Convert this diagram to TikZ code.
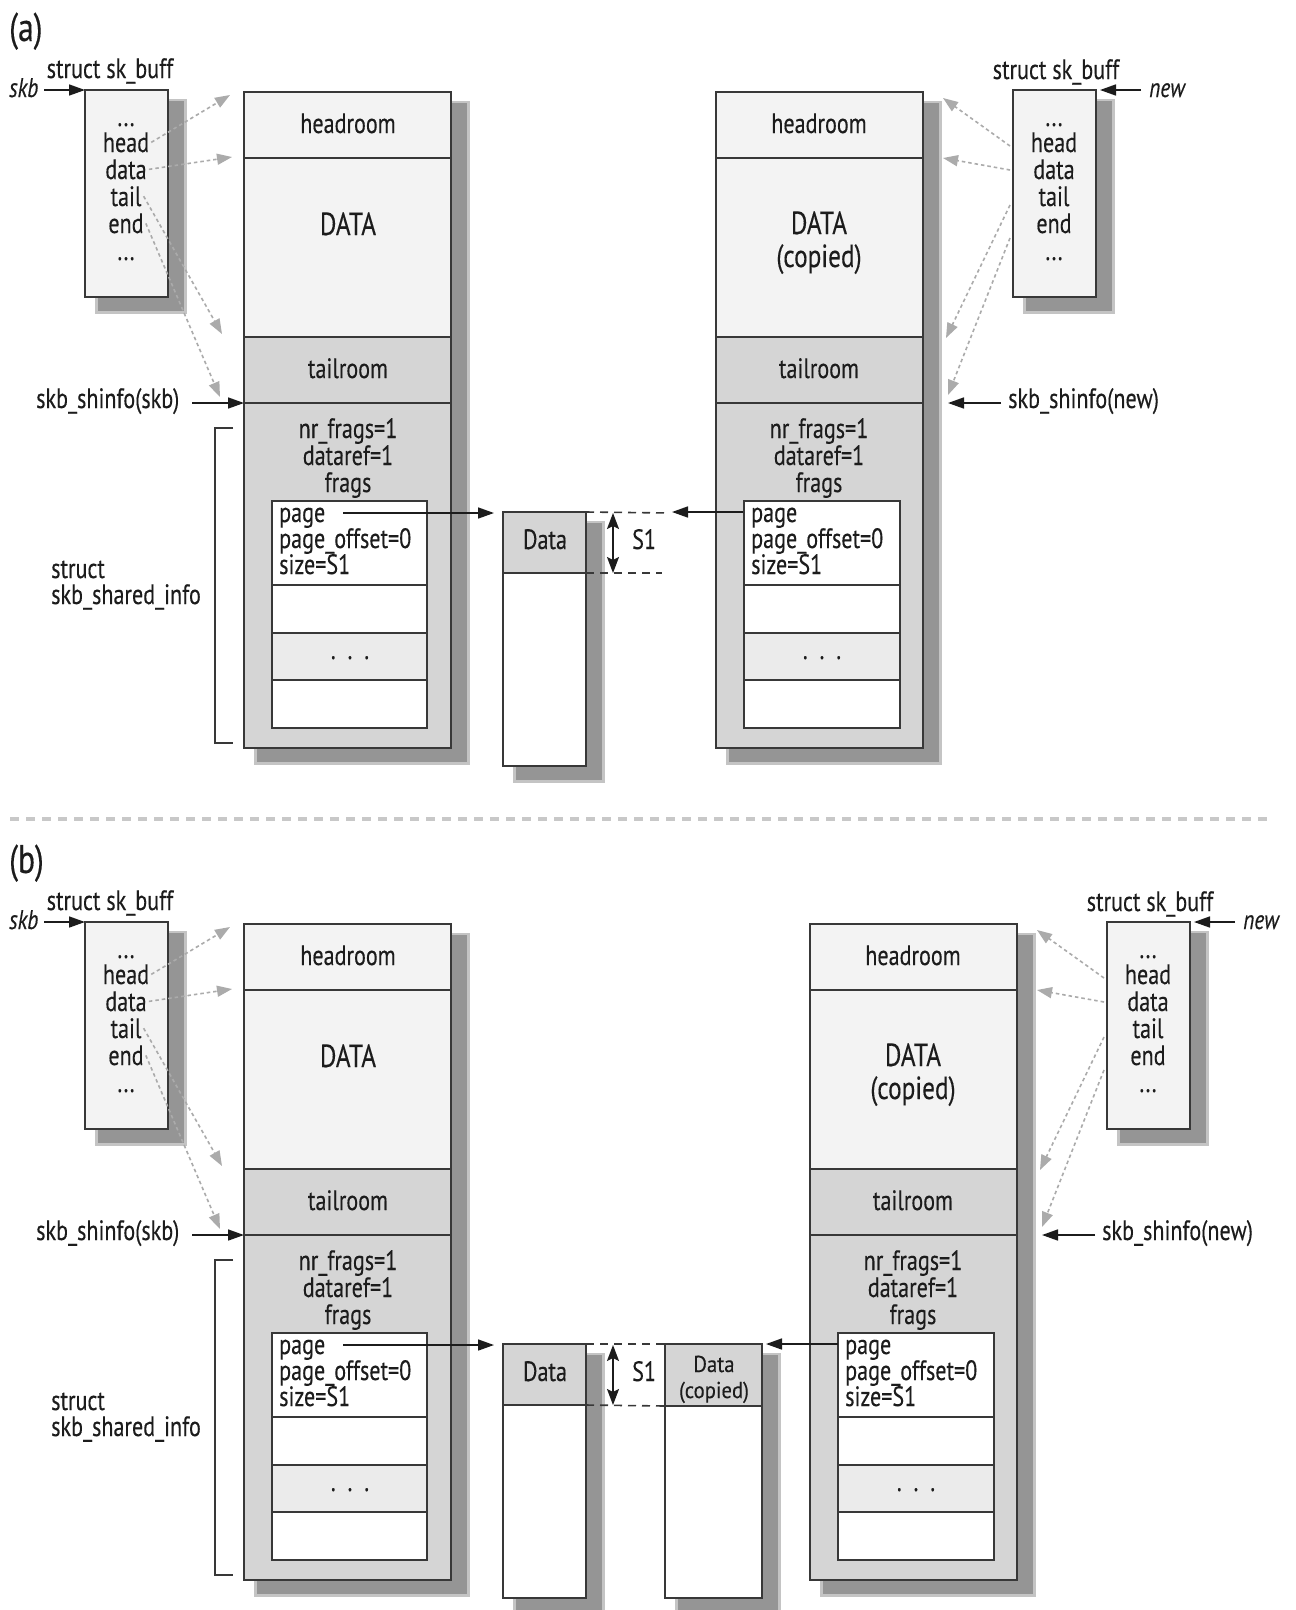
\documentclass[tikz,border=0pt]{standalone}
\usepackage{fontspec}
\setmainfont{PT Sans}[FakeStretch=0.79, FakeBold=0.25]
\newfontfamily\widefont{PT Sans}[FakeStretch=0.9, FakeBold=0.25]
\usetikzlibrary{arrows.meta}
\definecolor{lightfill}{HTML}{F3F3F3}
\definecolor{midfill}{HTML}{D5D5D5}
\definecolor{dotfill}{HTML}{EBEBEB}
\definecolor{edgec}{HTML}{383838}
\definecolor{shcore}{HTML}{959595}
\definecolor{shhalo}{HTML}{C4C4C4}
\definecolor{ptrc}{HTML}{ABABAB}
\definecolor{inkc}{HTML}{1C1C1C}
\definecolor{sepc}{HTML}{C8C8C8}
\tikzset{
  boxc/.style={draw=edgec, line width=2.3pt, anchor=north west, inner sep=0pt, outer sep=0pt},
  lbl/.style={anchor=base, inner sep=0pt, text=inkc, font=\fontsize{28}{30}\selectfont},
  lblw/.style={lbl, anchor=base west},
  itl/.style={lblw, font=\itshape\fontsize{27}{29}\selectfont},
  big/.style={lbl, font=\fontsize{32}{34}\selectfont},
  ptr/.style={draw=ptrc, line width=1.6pt, dash pattern=on 3.5pt off 3pt, -{Triangle[length=15pt,width=11pt]}},
  blk/.style={draw=inkc, line width=1.6pt, -{Triangle[length=16pt,width=11pt]}},
  dbl/.style={draw=inkc, line width=1.6pt, {Stealth[length=16pt,width=12pt,inset=3pt]}-{Stealth[length=16pt,width=12pt,inset=3pt]}},
  dsh/.style={draw=edgec, line width=1.6pt, dash pattern=on 8pt off 6pt},
}
\newcommand\Shade[4]{%
  \fill[shhalo] ({#1+10},{#2+9}) rectangle ({#3+19},{#4+17});
  \fill[shcore] ({#1+13},{#2+11}) rectangle ({#3+16},{#4+14});
}
% #1 prefix, #2 label
\newcommand\LeftGroup[2]{%
  \node[lblw, font=\fontsize{40}{40}\selectfont] (#1lab) at (9,41) {#2};
  % sk_buff
  \Shade{85}{90}{168}{297}
  \node[boxc, fill=lightfill, minimum width=83pt, minimum height=207pt] (#1Lsk) at (85,90) {};
  \node[lbl] (#1Lst) at (110,78) {struct sk\_buff};
  \node[itl] (#1Lskb) at (9,97) {skb};
  \node[lbl] (#1Ld1) at (126,126) {...};
  \node[lbl] (#1Lhead) at (126,152) {head};
  \node[lbl] (#1Ldata) at (126,179) {data};
  \node[lbl] (#1Ltail) at (126,206) {tail};
  \node[lbl] (#1Lend) at (126,233) {end};
  \node[lbl] (#1Ld2) at (126,260) {...};
  % buffer
  \Shade{244}{92}{451}{748}
  \node[boxc, fill=lightfill, minimum width=207pt, minimum height=66pt] (#1Lhr) at (244,92) {};
  \node[boxc, fill=lightfill, minimum width=207pt, minimum height=179pt] (#1Ldt) at (244,158) {};
  \node[boxc, fill=midfill, minimum width=207pt, minimum height=66pt] (#1Ltr) at (244,337) {};
  \node[boxc, fill=midfill, minimum width=207pt, minimum height=345pt] (#1Lsh) at (244,403) {};
  \node[lbl] (#1Lhrt) at (348,133) {headroom};
  \node[big] (#1Ldtt) at (348,235) {DATA};
  \node[lbl] (#1Ltrt) at (348,378) {tailroom};
  \node[lbl] (#1Lnr) at (348,438) {nr\_frags=1};
  \node[lbl] (#1Ldr) at (348,465) {dataref=1};
  \node[lbl] (#1Lfr) at (348,492) {frags};
  \node[boxc, fill=white, minimum width=155pt, minimum height=84pt] (#1Lf0) at (272,501) {};
  \node[boxc, fill=white, minimum width=155pt, minimum height=48pt] (#1Lf1) at (272,585) {};
  \node[boxc, fill=dotfill, minimum width=155pt, minimum height=47pt] (#1Lf2) at (272,633) {};
  \node[boxc, fill=white, minimum width=155pt, minimum height=48pt] (#1Lf3) at (272,680) {};
  \node[lblw] (#1Lpg) at (279,522) {page};
  \node[lblw] (#1Lpo) at (279,548) {page\_offset=0};
  \node[lblw] (#1Lsz) at (279,574) {size=S1};
  \node[lbl] (#1Ldots) at (350,659) {.\hspace{12pt}.\hspace{12pt}.};
  % bracket and labels
  \draw[edgec, line width=2pt] (233,428) -- (215,428) -- (215,743) -- (233,743);
  \node[lblw] (#1Lsi1) at (51,578) {struct};
  \node[lblw] (#1Lsi2) at (51,604) {skb\_shared\_info};
  \node[lblw] (#1Lshl) at (36,408) {skb\_shinfo(skb)};
  % page Data box
  \Shade{503}{512}{586}{766}
  \node[boxc, fill=white, minimum width=83pt, minimum height=254pt] (#1D) at (503,512) {};
  \node[boxc, fill=midfill, minimum width=83pt, minimum height=61pt] (#1Dh) at (503,512) {};
  \node[lbl] (#1Dt) at (545,549) {Data};
  \node[lblw] (#1S1) at (632,549) {S1};
  % connectors
  \coordinate (#1Lskbs) at (44,90);
  \draw[blk] (#1Lskbs) -- (#1Lsk.north west);
  \coordinate (#1Lshs) at (192,403);
  \coordinate (#1Lshe) at (244,403);
  \draw[blk] (#1Lshs) -- (#1Lshe);
  \coordinate (#1Lpgs) at (343,513);
  \coordinate (#1Lpge) at (494,513);
  \draw[blk] (#1Lpgs) -- (#1Lpge);
  \coordinate (#1S1a) at (613,513);
  \coordinate (#1S1b) at (613,573);
  \draw[dbl] (#1S1a) -- (#1S1b);
  \coordinate (#1Lt1) at (230,95);
  \coordinate (#1Lt2) at (232,157);
  \coordinate (#1Lt3) at (222,334);
  \coordinate (#1Lt4) at (220,397);
  \draw[ptr] ([xshift=2pt]#1Lhead.east) -- (#1Lt1);
  \draw[ptr] ([xshift=2pt]#1Ldata.east) -- (#1Lt2);
  \draw[ptr] ([xshift=2pt]#1Ltail.east) -- (#1Lt3);
  \draw[ptr] ([xshift=2pt]#1Lend.east) -- (#1Lt4);
}
% #1 prefix ; drawn in a scope shifted to the right buffer's left edge
\newcommand\RightGroup[1]{%
  \Shade{0}{92}{207}{748}
  \node[boxc, fill=lightfill, minimum width=207pt, minimum height=66pt] (#1Rhr) at (0,92) {};
  \node[boxc, fill=lightfill, minimum width=207pt, minimum height=179pt] (#1Rdt) at (0,158) {};
  \node[boxc, fill=midfill, minimum width=207pt, minimum height=66pt] (#1Rtr) at (0,337) {};
  \node[boxc, fill=midfill, minimum width=207pt, minimum height=345pt] (#1Rsh) at (0,403) {};
  \node[lbl] (#1Rhrt) at (103,133) {headroom};
  \node[big] (#1Rdtt) at (103,234) {DATA};
  \node[big] (#1Rdtc) at (103,267) {(copied)};
  \node[lbl] (#1Rtrt) at (103,378) {tailroom};
  \node[lbl] (#1Rnr) at (103,438) {nr\_frags=1};
  \node[lbl] (#1Rdr) at (103,465) {dataref=1};
  \node[lbl] (#1Rfr) at (103,492) {frags};
  \node[boxc, fill=white, minimum width=156pt, minimum height=84pt] (#1Rf0) at (28,501) {};
  \node[boxc, fill=white, minimum width=156pt, minimum height=48pt] (#1Rf1) at (28,585) {};
  \node[boxc, fill=dotfill, minimum width=156pt, minimum height=47pt] (#1Rf2) at (28,633) {};
  \node[boxc, fill=white, minimum width=156pt, minimum height=48pt] (#1Rf3) at (28,680) {};
  \node[lblw] (#1Rpg) at (35,522) {page};
  \node[lblw] (#1Rpo) at (35,548) {page\_offset=0};
  \node[lblw] (#1Rsz) at (35,574) {size=S1};
  \node[lbl] (#1Rdots) at (106,659) {.\hspace{12pt}.\hspace{12pt}.};
  % sk_buff
  \Shade{297}{90}{380}{297}
  \node[boxc, fill=lightfill, minimum width=83pt, minimum height=207pt] (#1Rsk) at (297,90) {};
  \node[lbl] (#1Rst) at (340,79) {struct sk\_buff};
  \node[itl] (#1Rnew) at (433,97) {new};
  \node[lbl] (#1Rd1) at (338,126) {...};
  \node[lbl] (#1Rhead) at (338,152) {head};
  \node[lbl] (#1Rdata) at (338,179) {data};
  \node[lbl] (#1Rtail) at (338,206) {tail};
  \node[lbl] (#1Rend) at (338,233) {end};
  \node[lbl] (#1Rd2) at (338,260) {...};
  \node[lblw] (#1Rshl) at (292,408) {skb\_shinfo(new)};
  % connectors
  \coordinate (#1Rnews) at (425,90);
  \coordinate (#1Rnewe) at (384,90);
  \draw[blk] (#1Rnews) -- (#1Rnewe);
  \coordinate (#1Rshs) at (285,403);
  \coordinate (#1Rshe) at (232,403);
  \draw[blk] (#1Rshs) -- (#1Rshe);
  \coordinate (#1Rs1) at (294,146);
  \coordinate (#1Rs2) at (294,170);
  \coordinate (#1Rs3) at (294,205);
  \coordinate (#1Rs4) at (294,238);
  \coordinate (#1Rt1) at (227,98);
  \coordinate (#1Rt2) at (227,158);
  \coordinate (#1Rt3) at (230,338);
  \coordinate (#1Rt4) at (232,395);
  \draw[ptr] (#1Rs1) -- (#1Rt1);
  \draw[ptr] (#1Rs2) -- (#1Rt2);
  \draw[ptr] (#1Rs3) -- (#1Rt3);
  \draw[ptr] (#1Rs4) -- (#1Rt4);
}
\begin{document}
\begin{tikzpicture}[x=1pt, y=-1pt]
  \useasboundingbox[fill=white] (0,0) rectangle (1296,1610);
  % ---------------- panel (a) ----------------
  \LeftGroup{a}{(a)}
  \begin{scope}[shift={(716,0)}]
    \RightGroup{a}
  \end{scope}
  \coordinate (aRpgs) at (743,512);
  \coordinate (aRpge) at (672,512);
  \draw[blk] (aRpgs) -- (aRpge);
  \coordinate (aDa) at (669,513);
  \coordinate (aDb) at (662,573);
  \draw[dsh] (aDh.north east) -- (aDa);
  \draw[dsh] (aDh.south east) -- (aDb);
  % ---------------- separator ----------------
  \coordinate (sepL) at (10,819);
  \coordinate (sepR) at (1268,819);
  \draw[sepc, line width=3.5pt, dash pattern=on 9pt off 7pt] (sepL) -- (sepR);
  % ---------------- panel (b) ----------------
  \begin{scope}[shift={(0,832)}]
    \LeftGroup{b}{(b)}
    \begin{scope}[shift={(810,0)}]
      \RightGroup{b}
    \end{scope}
    \Shade{665}{512}{762}{766}
    \node[boxc, fill=white, minimum width=97pt, minimum height=254pt] (bC) at (665,512) {};
    \node[boxc, fill=midfill, minimum width=97pt, minimum height=62pt] (bCh) at (665,512) {};
    \node[lbl, font=\widefont\fontsize{23}{23}\selectfont] (bCt1) at (714,540) {Data};
    \node[lbl, font=\widefont\fontsize{23}{23}\selectfont] (bCt2) at (714,566) {(copied)};
    \coordinate (bRpgs) at (838,512);
    \coordinate (bRpge) at (766,512);
    \draw[blk] (bRpgs) -- (bRpge);
    \draw[dsh] (bDh.north east) -- (bCh.north west);
    \draw[dsh] (bDh.south east) -- (bCh.south west);
  \end{scope}
\end{tikzpicture}
\end{document}
